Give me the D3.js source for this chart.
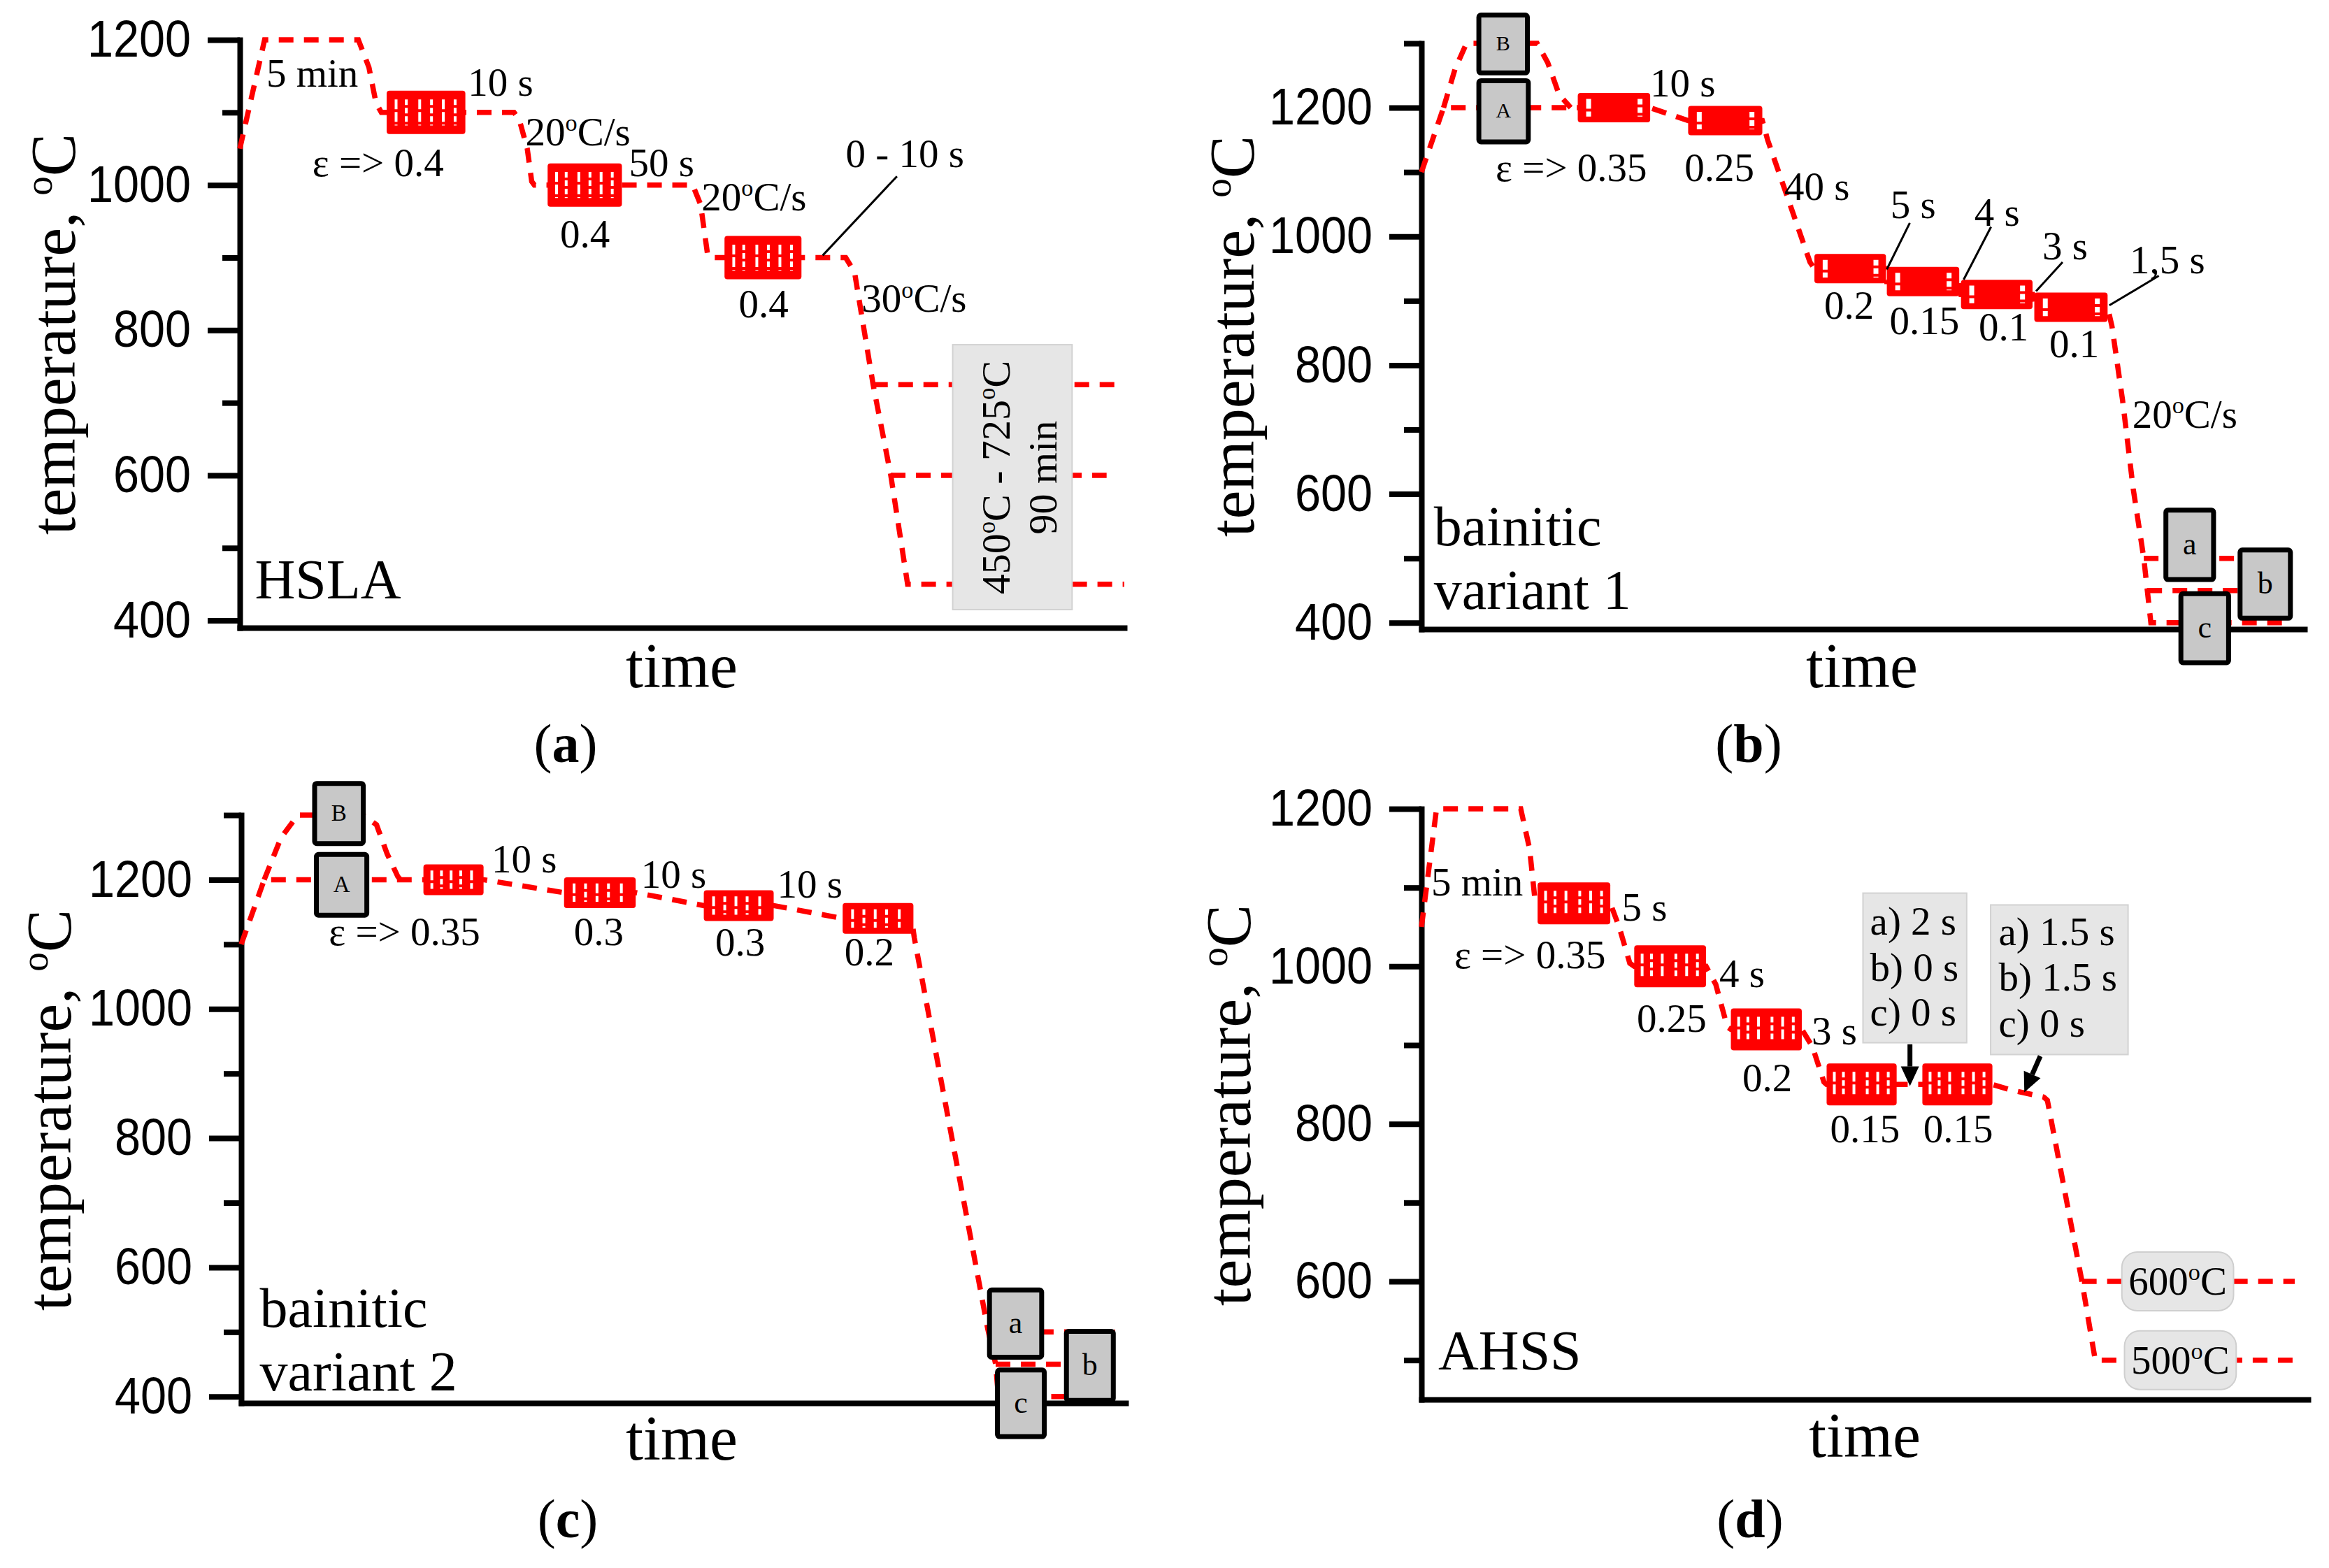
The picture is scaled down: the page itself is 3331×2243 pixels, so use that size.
<!DOCTYPE html>
<html><head><meta charset="utf-8">
<script src="https://cdn.jsdelivr.net/npm/d3@7"></script>
<style>
html,body{margin:0;padding:0;background:#fff;}
svg{display:block;}
</style></head><body>
<svg id="chart" width="3331" height="2243"></svg>
<script>
// ================= DATA (time in arbitrary % of axis, temperature in °C) =================
const yMajorA = [400, 600, 800, 1000, 1200];
const yMinorA = [500, 700, 900, 1100];
const yMajorB = [400, 600, 800, 1000, 1200];
const yMinorB = [500, 700, 900, 1100, 1300];
const yMajorC = [400, 600, 800, 1000, 1200];
const yMinorC = [500, 700, 900, 1100, 1300];
const yMajorD = [600, 800, 1000, 1200];
const yMinorD = [500, 700, 900, 1100];

// Panel (a) HSLA
const aPath = [[0,1050],[2.8,1200],[13.4,1200],[14.6,1162],[15.4,1113],[16.0,1100],[25.5,1100],[31.0,1100],[31.6,1090],[32.5,1050],[33.0,1005],[33.3,1000],[43.2,1000],[51.2,1000],[52.1,973],[52.9,903],[53.2,900],[68.5,900],[69.5,880],[71.6,725],[73.6,600],[75.5,450],[100,450]];
const aBranch725 = [[71.6,725],[99.7,725]];
const aBranch600 = [[73.6,600],[98.0,600]];
const aDeform = [[16.6,25.5,1100],[34.8,43.2,1000],[54.8,63.5,900]];
const aLabels = [["5 min",3.0,1135],["10 s",25.8,1123],["ε => 0.4",8.2,1012],["20°C/s",32.3,1055],["50 s",44.0,1012],["0.4",36.2,914],["20°C/s",52.2,965],["0 - 10 s",68.5,1025],["0.4",56.4,818],["30°C/s",70.3,825]];
const aLeaders = [[[65.9,903],[74.3,1012]]];
const aNoteBox = [80.6, 94.1, 415, 780];
const aNoteLines = [["450°C - 725°C",87.0,597],["90 min",92.3,597]];
const aName = [["HSLA",1.7,430]];

// Panel (b) bainitic variant 1
const bPathA = [[0,1100],[2.5,1200],[17.7,1200],[25.9,1200],[30.2,1180],[38.6,1180],[39.2,1150],[44.0,960],[44.5,950],[52.6,950],[52.7,930],[60.9,930],[61.1,910],[69.2,910],[69.4,890],[77.7,890],[78.2,860],[79.4,745],[80.6,608],[81.8,500],[82.2,450],[82.6,400],[97.5,400]];
const bPathB = [[2.5,1200],[3.8,1260],[5.1,1300],[13.1,1300],[14.3,1270],[15.6,1220],[16.9,1200]];
const bBranch500 = [[81.8,500],[92.7,500]];
const bBranch450 = [[82.2,450],[92.7,450]];
const bDeform = [[17.7,25.9,1200],[30.2,38.6,1180],[44.5,52.6,950],[52.7,60.9,930],[61.1,69.2,910],[69.4,77.7,890]];
const bLabels = [["10 s",25.9,1217],["ε => 0.35",8.4,1086],["0.25",29.8,1086],["40 s",41.1,1057],["5 s",53.1,1028],["4 s",62.6,1017],["3 s",70.3,964],["1,5 s",80.2,943],["0.2",45.6,872],["0.15",53.0,848],["0.1",63.1,838],["0.1",71.1,812],["20°C/s",80.5,703]];
const bLeaders = [[[52.7,949],[55.3,1021]],[[61.4,933],[64.5,1015]],[[69.6,915],[72.6,960]],[[77.9,893],[83.5,939]]];
const bVariants = [["B",6.5,12.0,1254,1344],["A",6.5,12.1,1147,1242],["a",84.3,89.7,467,575],["b",92.7,98.4,407,513],["c",86.0,91.4,338,445]];
const bName = [["bainitic",1.4,520],["variant 1",1.4,421]];

// Panel (c) bainitic variant 2
const cPathA = [[0,1100],[2.6,1200],[20.6,1200],[27.4,1200],[36.5,1180],[44.6,1180],[52.3,1160],[60.2,1160],[68.0,1140],[75.8,1140],[76.1,1110],[84.4,505],[84.9,475],[85.3,450],[85.6,400],[93.3,400]];
const cPathB = [[2.6,1200],[4.5,1265],[6.4,1300],[13.8,1300],[15.3,1285],[16.5,1240],[17.7,1205],[18.0,1200]];
const cBranch500 = [[84.5,500],[98.8,500]];
const cBranch450 = [[85.3,450],[93.3,450]];
const cDeform = [[20.6,27.4,1200],[36.5,44.6,1180],[52.3,60.2,1160],[68.0,76.0,1140]];
const cLabels = [["10 s",28.3,1211],["10 s",45.2,1188],["10 s",60.6,1172],["ε => 0.35",9.9,1099],["0.3",37.6,1099],["0.3",53.6,1083],["0.2",68.2,1067]];
const cVariants = [["B",8.3,13.8,1256,1349],["A",8.5,14.2,1145,1239],["a",84.6,90.5,461,565],["b",93.3,98.6,394,501],["c",85.5,90.8,338,441]];
const cName = [["bainitic",2.1,508],["variant 2",2.1,410]];

// Panel (d) AHSS
const dPath = [[0,1050],[1.7,1200],[11.2,1200],[12.2,1149],[12.8,1085],[13.1,1080],[21.3,1080],[22.3,1050],[23.5,1004],[24.0,1000],[32.1,1000],[33.2,977],[34.5,923],[34.9,920],[42.9,920],[44.1,898],[45.4,853],[45.7,850],[53.6,850],[56.5,850],[64.4,850],[66.5,843],[70.2,834],[70.6,830],[74.5,600],[76.0,500],[99.0,500]];
const dBranch600 = [[74.5,600],[98.5,600]];
const dDeform = [[13.1,21.3,1080],[24.0,32.1,1000],[34.9,42.9,920],[45.7,53.6,850],[56.5,64.4,850]];
const dLabels = [["5 min",1.1,1090],["5 s",22.6,1058],["ε => 0.35",3.7,998],["4 s",33.6,974],["0.25",24.3,917],["3 s",44.0,901],["0.2",36.2,841],["0.15",46.1,777],["0.15",56.6,777]];
const dNoteBox1 = [49.8, 61.5, 903, 1093];
const dNoteText1 = [["a) 2 s",50.6,1040],["b) 0 s",50.6,982],["c) 0 s",50.6,925]];
const dNoteBox2 = [64.2, 79.7, 888, 1078];
const dNoteText2 = [["a) 1.5 s",65.1,1027],["b) 1.5 s",65.1,969],["c) 0 s",65.1,911]];
const dArrows = [[[55.1,901],[55.1,848]],[[69.8,886],[68.0,840]]];
const dPills = [["600°C",79.0,91.6,600],["500°C",79.3,91.9,500]];
const dName = [["AHSS",1.9,488]];

const panelTags = ["a","b","c","d"];
const axisTitle = "temperature, °C";
const xTitle = "time";

// ================= LAYOUT / STYLE =================
const SERIF = "'Liberation Serif','Times New Roman',Times,serif";
const SANS = "'Liberation Sans',Arial,Helvetica,sans-serif";
const RED = "#ff0000";
const layout = [
  {x0:343, x1:1608, yTop:57, yBot:898, dom:[390,1200], tx:107, ty:478, timeX:975, timeY:983, tagX:809, tagY:1090, boxH:62, stripes:[0.12,0.25,0.42,0.57,0.72,0.87], stripeW:4},
  {x0:2033, x1:3296, yTop:62, yBot:900, dom:[390,1300], tx:1793, ty:481, timeX:2663, timeY:983, tagX:2501, tagY:1090, boxH:42, stripes:[0.15,0.86], stripeW:7},
  {x0:345, x1:1610, yTop:1166, yBot:2007, dom:[390,1300], tx:101, ty:1588, timeX:975, timeY:2088, tagX:812, tagY:2199, boxH:44, stripes:[0.14,0.3,0.46,0.62,0.8], stripeW:4},
  {x0:2033, x1:3301, yTop:1157, yBot:2002, dom:[450,1200], tx:1788, ty:1581, timeX:2667, timeY:2084, tagX:2503, tagY:2199, boxH:60, stripes:[0.11,0.24,0.39,0.58,0.73,0.88], stripeW:4}
];

const svg = d3.select("#chart");
svg.append("rect").attr("width",3331).attr("height",2243).attr("fill","#fff");

function rich(textSel, str, fs) {
  const parts = str.split("°");
  textSel.append("tspan").text(parts[0]);
  for (let i = 1; i < parts.length; i++) {
    textSel.append("tspan").attr("font-size", fs*0.6).attr("dy", -fs*0.36).text("o");
    textSel.append("tspan").attr("dy", fs*0.36).text(parts[i]);
  }
}

function drawPanel(L, P) {
  const g = svg.append("g");
  const x = d3.scaleLinear().domain([0,100]).range([L.x0, L.x1]);
  const y = d3.scaleLinear().domain(L.dom).range([L.yBot, L.yTop]);

  // axes
  const xAx = g.append("g").attr("transform",`translate(0,${L.yBot})`)
    .call(d3.axisBottom(x).tickValues([]).tickSizeOuter(0));
  xAx.select(".domain").attr("stroke","#000").attr("stroke-width",8).attr("stroke-linecap","square");

  const yMin = g.append("g").attr("transform",`translate(${L.x0},0)`)
    .call(d3.axisLeft(y).tickValues(P.minor).tickSize(25).tickSizeOuter(0).tickFormat(""));
  yMin.selectAll("line").attr("stroke","#000").attr("stroke-width",8);
  yMin.select(".domain").attr("stroke","#000").attr("stroke-width",8).attr("stroke-linecap","square");

  const yMaj = g.append("g").attr("transform",`translate(${L.x0},0)`)
    .call(d3.axisLeft(y).tickValues(P.major).tickSize(46).tickPadding(24).tickSizeOuter(0).tickFormat(d3.format("d")));
  yMaj.select(".domain").remove();
  yMaj.selectAll("line").attr("stroke","#000").attr("stroke-width",8);
  yMaj.selectAll("text").attr("font-family",SANS).attr("font-size",74).attr("fill","#000")
    .attr("x", -70/0.9).attr("transform","scale(0.9,1)");

  const line = d3.line().x(d=>x(d[0])).y(d=>y(d[1]));
  // dashed temperature paths
  P.paths.forEach(p => {
    g.append("path").attr("d", line(p)).attr("fill","none").attr("stroke",RED)
      .attr("stroke-width",7.5).attr("stroke-dasharray","21,15");
  });

  // deformation (rolling) blocks
  P.deform.forEach(b => {
    const bx = x(b[0]), bw = x(b[1]) - x(b[0]), cy = y(b[2]);
    g.append("rect").attr("x",bx).attr("y",cy - L.boxH/2).attr("width",bw).attr("height",L.boxH)
      .attr("rx",4).attr("fill",RED);
    L.stripes.forEach((f,i) => {
      g.append("line").attr("x1",bx+f*bw).attr("x2",bx+f*bw)
        .attr("y1",cy - L.boxH*0.3).attr("y2",cy + L.boxH*0.3)
        .attr("stroke","#fff").attr("stroke-width",L.stripeW)
        .attr("stroke-dasharray", i%2 ? "8,4" : "14,4");
    });
  });

  // leader lines
  (P.leaders||[]).forEach(l => {
    g.append("line").attr("x1",x(l[0][0])).attr("y1",y(l[0][1])).attr("x2",x(l[1][0])).attr("y2",y(l[1][1]))
      .attr("stroke","#000").attr("stroke-width",3);
  });

  // note boxes (light gray)
  (P.notes||[]).forEach(n => {
    g.append("rect").attr("x",x(n[0])).attr("y",y(n[3])).attr("width",x(n[1])-x(n[0])).attr("height",y(n[2])-y(n[3]))
      .attr("fill","#e6e6e6").attr("stroke","#d2d2d2").attr("stroke-width",2);
  });

  // pills
  (P.pills||[]).forEach(p => {
    const cy = y(p[3]);
    g.append("rect").attr("x",x(p[1])).attr("y",cy-42).attr("width",x(p[2])-x(p[1])).attr("height",84)
      .attr("rx",22).attr("fill","#e6e6e6").attr("stroke","#cfcfcf").attr("stroke-width",2);
    const t = g.append("text").attr("x",(x(p[1])+x(p[2]))/2).attr("y",cy+19).attr("text-anchor","middle")
      .attr("font-family",SERIF).attr("font-size",57).attr("fill","#000");
    rich(t, p[0], 57);
  });

  // variant boxes (A, B, a, b, c)
  (P.variants||[]).forEach(v => {
    const bx = x(v[1]), bw = x(v[2])-x(v[1]), by = y(v[4]), bh = y(v[3])-y(v[4]);
    g.append("rect").attr("x",bx).attr("y",by).attr("width",bw).attr("height",bh).attr("rx",3)
      .attr("fill","#c8c8c8").attr("stroke","#000").attr("stroke-width",7);
    const upper = v[0] === v[0].toUpperCase();
    const fs = upper ? P.capFs : 44;
    g.append("text").attr("x",bx+bw/2).attr("y",by+bh/2 + fs*0.3).attr("text-anchor","middle")
      .attr("font-family",SERIF).attr("font-size",fs).attr("fill","#000").text(v[0]);
  });

  // arrows
  (P.arrows||[]).forEach(a => {
    const x1 = x(a[0][0]), y1 = y(a[0][1]), x2 = x(a[1][0]), y2 = y(a[1][1]);
    const ang = Math.atan2(y2-y1, x2-x1), hl = 28, hw = 13;
    const bxp = x2 - hl*Math.cos(ang), byp = y2 - hl*Math.sin(ang);
    g.append("line").attr("x1",x1).attr("y1",y1).attr("x2",bxp).attr("y2",byp).attr("stroke","#000").attr("stroke-width",7);
    g.append("path").attr("d",`M${x2},${y2}L${bxp - hw*Math.sin(ang)},${byp + hw*Math.cos(ang)}L${bxp + hw*Math.sin(ang)},${byp - hw*Math.cos(ang)}Z`).attr("fill","#000");
  });

  // text labels
  const lab = (arr, fs) => arr.forEach(l => {
    const t = g.append("text").attr("x",x(l[1])).attr("y",y(l[2])).attr("font-family",SERIF)
      .attr("font-size",fs).attr("fill","#000");
    rich(t, l[0], fs);
  });
  lab(P.labels, 57);
  lab(P.noteText||[], 57);
  lab(P.name, 80);

  (P.rotText||[]).forEach(l => {
    const t = g.append("text").attr("transform",`translate(${x(l[1])},${y(l[2])}) rotate(-90)`)
      .attr("text-anchor","middle").attr("font-family",SERIF).attr("font-size",58).attr("fill","#000");
    rich(t, l[0], 58);
  });

  // axis titles
  const yt = g.append("text").attr("transform",`translate(${L.tx},${L.ty}) rotate(-90)`)
    .attr("text-anchor","middle").attr("font-family",SERIF).attr("font-size",92).attr("fill","#000");
  rich(yt, axisTitle, 92);
  g.append("text").attr("x",L.timeX).attr("y",L.timeY).attr("text-anchor","middle")
    .attr("font-family",SERIF).attr("font-size",90).attr("fill","#000").text(xTitle);
  const tg = g.append("text").attr("x",L.tagX).attr("y",L.tagY).attr("text-anchor","middle")
    .attr("font-family",SERIF).attr("font-size",78).attr("fill","#000");
  tg.append("tspan").text("(");
  tg.append("tspan").attr("font-weight","bold").text(P.tag);
  tg.append("tspan").text(")");
}

drawPanel(layout[0], {major:yMajorA, minor:yMinorA, paths:[aPath,aBranch725,aBranch600], deform:aDeform,
  labels:aLabels, leaders:aLeaders, notes:[aNoteBox], rotText:aNoteLines, name:aName, tag:panelTags[0]});
drawPanel(layout[1], {major:yMajorB, minor:yMinorB, paths:[bPathA,bPathB,bBranch500,bBranch450], deform:bDeform,
  labels:bLabels, leaders:bLeaders, variants:bVariants, capFs:30, name:bName, tag:panelTags[1]});
drawPanel(layout[2], {major:yMajorC, minor:yMinorC, paths:[cPathA,cPathB,cBranch500,cBranch450], deform:cDeform,
  labels:cLabels, variants:cVariants, capFs:33, name:cName, tag:panelTags[2]});
drawPanel(layout[3], {major:yMajorD, minor:yMinorD, paths:[dPath,dBranch600], deform:dDeform,
  labels:dLabels, notes:[dNoteBox1,dNoteBox2], noteText:dNoteText1.concat(dNoteText2), arrows:dArrows, pills:dPills, name:dName, tag:panelTags[3]});
</script>
</body></html>
